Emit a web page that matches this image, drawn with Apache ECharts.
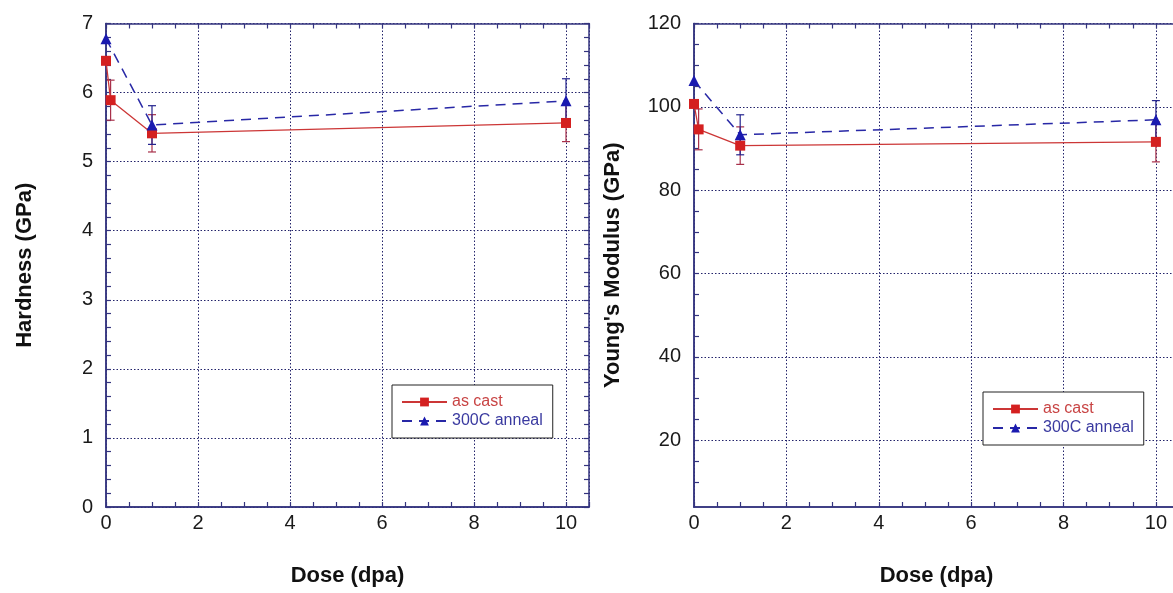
<!DOCTYPE html>
<html>
<head>
<meta charset="utf-8">
<script src="https://cdn.jsdelivr.net/npm/echarts@6/dist/echarts.min.js"></script>
<style>
  html, body { margin: 0; padding: 0; background: #fff; }
  #chart { width: 1173px; height: 593px; }
</style>
</head>
<body>
<div id="chart"></div>
<script>
// dose values (dpa)
var doseCast = [0, 0.1, 1, 10];
var doseAnneal = [0, 1, 10];

// hardness (GPa)
var hardCast = [6.46, 5.89, 5.41, 5.56];
var hardCastErr = [0, 0.29, 0.27, 0.27];
var hardAnneal = [6.78, 5.53, 5.88];
var hardAnnealErr = [0, 0.28, 0.32];

// Young's modulus (GPa)
var modCast = [100.7, 94.6, 90.7, 91.6];
var modCastErr = [0, 4.9, 4.5, 4.8];
var modAnneal = [106.3, 93.3, 96.9];
var modAnnealErr = [0, 4.8, 4.6];

// tick values
var modLabels = [20, 40, 60, 80, 100, 120];
var modMinor = [10, 15, 20, 25, 30, 35, 40, 45, 50, 55, 60, 65, 70, 75, 80, 85, 90, 95, 100, 105, 110, 115, 120];

var FONT = '"Liberation Sans", Arial, Helvetica, sans-serif';
var NAVY = '#34347f';
var RED = '#d42020';
var BLUE = '#1a1ab0';

function pairs(xs, ys) {
  return xs.map(function (x, i) { return [x, ys[i]]; });
}
function errPairs(xs, ys, es) {
  var out = [];
  xs.forEach(function (x, i) {
    if (es[i] > 0) out.push([x, ys[i] - es[i], ys[i] + es[i]]);
  });
  return out;
}
function errRender(color) {
  return function (params, api) {
    var x = api.value(0);
    var p0 = api.coord([x, api.value(1)]);
    var p1 = api.coord([x, api.value(2)]);
    var w = 4;
    var st = { stroke: color, lineWidth: 1.2 };
    return {
      type: 'group',
      children: [
        { type: 'line', shape: { x1: p0[0], y1: p0[1], x2: p1[0], y2: p1[1] }, style: st },
        { type: 'line', shape: { x1: p0[0] - w, y1: p0[1], x2: p0[0] + w, y2: p0[1] }, style: st },
        { type: 'line', shape: { x1: p1[0] - w, y1: p1[1], x2: p1[0] + w, y2: p1[1] }, style: st }
      ]
    };
  };
}

var tickStyle = { show: true, inside: true, length: 5, lineStyle: { color: NAVY, width: 1.2 } };
var lineStyleAx = { show: true, onZero: false, lineStyle: { color: NAVY, width: 1.5 } };
var gridLine = { show: true, lineStyle: { color: '#22226a', width: 1, type: [1.5, 2] } };

// x axes for one grid: major (labels + grid lines), minor bottom, minor top
function xAxes(gi) {
  return [
    {
      gridIndex: gi, type: 'value', position: 'bottom', min: 0, max: 10.5, interval: 2,
      axisLine: lineStyleAx, axisTick: { show: false }, splitLine: gridLine,
      axisLabel: { fontSize: 20, fontFamily: FONT, color: '#1a1a1a', margin: 6, showMaxLabel: false },
      name: 'Dose (dpa)', nameLocation: 'middle', nameGap: 58,
      nameTextStyle: { fontSize: 22, fontWeight: 'bold', fontFamily: FONT, color: '#111' }
    },
    {
      gridIndex: gi, type: 'value', position: 'bottom', min: 0, max: 10.5, interval: 0.5,
      axisLine: lineStyleAx, axisTick: tickStyle, splitLine: { show: false }, axisLabel: { show: false }
    },
    {
      gridIndex: gi, type: 'value', position: 'top', min: 0, max: 10.5, interval: 0.5,
      axisLine: lineStyleAx, axisTick: tickStyle, splitLine: { show: false }, axisLabel: { show: false }
    }
  ];
}

var yLabel = { fontSize: 20, fontFamily: FONT, color: '#1a1a1a', margin: 13 };
var yName = { fontSize: 22, fontWeight: 'bold', fontFamily: FONT, color: '#111' };

var yAxes = [
  // left grid
  {
    gridIndex: 0, type: 'value', position: 'left', min: 0, max: 7, interval: 1,
    axisLine: lineStyleAx, axisTick: { show: false }, splitLine: gridLine, axisLabel: yLabel,
    name: 'Hardness (GPa)', nameLocation: 'middle', nameGap: 70, nameTextStyle: yName
  },
  {
    gridIndex: 0, type: 'value', position: 'left', min: 0, max: 7, interval: 0.2,
    axisLine: lineStyleAx, axisTick: tickStyle, splitLine: { show: false }, axisLabel: { show: false }
  },
  {
    gridIndex: 0, type: 'value', position: 'right', min: 0, max: 7, interval: 0.2,
    axisLine: lineStyleAx, axisTick: tickStyle, splitLine: { show: false }, axisLabel: { show: false }
  },
  // right grid
  {
    gridIndex: 1, type: 'value', position: 'left', min: 4, max: 120,
    axisLine: lineStyleAx, axisTick: { show: false, customValues: modLabels }, splitLine: gridLine,
    axisLabel: Object.assign({ customValues: modLabels }, yLabel),
    name: "Young's Modulus (GPa)", nameLocation: 'middle', nameGap: 70, nameTextStyle: yName
  },
  {
    gridIndex: 1, type: 'value', position: 'left', min: 4, max: 120,
    axisLine: lineStyleAx, axisTick: Object.assign({ customValues: modMinor }, tickStyle),
    splitLine: { show: false }, axisLabel: { show: false }
  },
  {
    gridIndex: 1, type: 'value', position: 'right', min: 4, max: 120,
    axisLine: lineStyleAx, axisTick: Object.assign({ customValues: modMinor }, tickStyle),
    splitLine: { show: false }, axisLabel: { show: false }
  }
];

function legend(left, top) {
  return {
    left: left, top: top, orient: 'vertical', selectedMode: false,
    backgroundColor: '#fff', borderColor: '#222', borderWidth: 1,
    padding: [9, 10, 9, 9], itemWidth: 45, itemHeight: 11, itemGap: 3,
    textStyle: { fontFamily: FONT, fontSize: 16, lineHeight: 12 },
    data: [
      { name: 'as cast', textStyle: { color: '#c84444' } },
      { name: '300C anneal', textStyle: { color: '#3a3aa0' } }
    ]
  };
}

function dataSeries(xi, yi, cast, castErr, anneal, annealErr) {
  return [
    {
      type: 'custom', name: 'cast err', xAxisIndex: xi, yAxisIndex: yi, z: 2,
      renderItem: errRender('#a8304a'), encode: { x: 0, y: [1, 2] },
      data: errPairs(doseCast, cast, castErr), clip: false
    },
    {
      type: 'custom', name: 'anneal err', xAxisIndex: xi, yAxisIndex: yi, z: 2,
      renderItem: errRender('#24248e'), encode: { x: 0, y: [1, 2] },
      data: errPairs(doseAnneal, anneal, annealErr), clip: false
    },
    {
      type: 'line', name: 'as cast', xAxisIndex: xi, yAxisIndex: yi, z: 3,
      data: pairs(doseCast, cast), symbol: 'rect', symbolSize: 10, clip: false,
      lineStyle: { color: '#cc3636', width: 1.3 }, itemStyle: { color: RED },
      emphasis: { disabled: true }
    },
    {
      type: 'line', name: '300C anneal', xAxisIndex: xi, yAxisIndex: yi, z: 4,
      data: pairs(doseAnneal, anneal), symbol: 'triangle', symbolSize: 11, clip: false,
      lineStyle: { color: '#2828a6', width: 1.5, type: [10, 7] }, itemStyle: { color: BLUE },
      emphasis: { disabled: true }
    }
  ];
}

var chart = echarts.init(document.getElementById('chart'), null, { renderer: 'canvas' });
chart.setOption({
  backgroundColor: '#fff',
  animation: false,
  grid: [
    { left: 106, top: 23.5, width: 483, height: 483.5, outerBoundsMode: 'none', containLabel: false },
    { left: 694, top: 23.5, width: 485, height: 483.5, outerBoundsMode: 'none', containLabel: false }
  ],
  xAxis: xAxes(0).concat(xAxes(1)),
  yAxis: yAxes,
  legend: [legend(392, 385), legend(983, 392)],
  series: dataSeries(0, 0, hardCast, hardCastErr, hardAnneal, hardAnnealErr)
    .concat(dataSeries(3, 3, modCast, modCastErr, modAnneal, modAnnealErr))
});
</script>
</body>
</html>
